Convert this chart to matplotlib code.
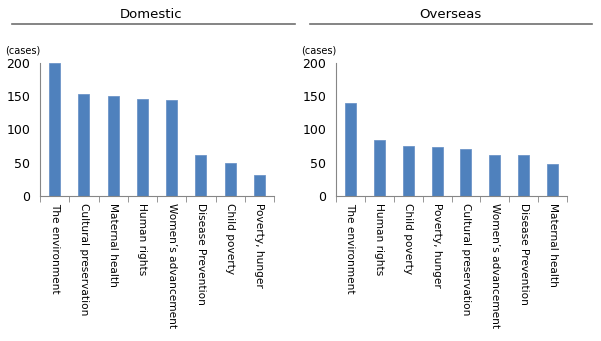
import matplotlib
matplotlib.use("Agg")
import matplotlib.pyplot as plt
from matplotlib.lines import Line2D
import numpy as np

# data
dom_labels = ["The environment", "Cultural preservation", "Maternal health", "Human rights",
              "Women\u2019s advancement", "Disease Prevention", "Child poverty", "Poverty, hunger"]
dom_values = [200, 154, 150, 146, 144, 62, 50, 31]

ovs_labels = ["The environment", "Human rights", "Child poverty", "Poverty, hunger",
              "Cultural preservation", "Women\u2019s advancement", "Disease Prevention", "Maternal health"]
ovs_values = [140, 84, 75, 74, 71, 62, 61, 48]

yticks = [0, 50, 100, 150, 200]

bar_color = "#4F81BD"
axis_color = "#868686"

plt.rcParams['font.family'] = ['DejaVu Sans']

fig = plt.figure(figsize=(6.01, 3.41), dpi=100)


def draw_panel(rect, labels, values, title, title_x, line_x0, line_x1):
    ax = fig.add_axes(rect)
    x = np.arange(len(values))
    ax.bar(x, values, width=0.38, color=bar_color, edgecolor="#6d95c8", linewidth=0.6, zorder=2)
    ax.set_xlim(-0.5, len(values) - 0.5)
    ax.set_ylim(0, 200)
    ax.set_yticks(yticks)
    ax.set_yticklabels([str(v) for v in yticks], fontsize=9)
    ax.tick_params(axis="y", length=0, pad=7)
    ax.set_xticks(x)
    ax.set_xticklabels(labels, rotation=-90, fontsize=7.6, va="top", ha="center")
    ax.tick_params(axis="x", which="major", length=0, pad=5)
    ax.set_xticks(np.arange(-0.5, len(values)), minor=True)
    ax.tick_params(axis="x", which="minor", length=4, color=axis_color, direction="out")
    for side in ("top", "right"):
        ax.spines[side].set_visible(False)
    for side in ("left", "bottom"):
        ax.spines[side].set_color(axis_color)
        ax.spines[side].set_linewidth(0.8)
    ax.text(-0.15, 1.06, "(cases)", transform=ax.transAxes, fontsize=7, ha="left", va="bottom")
    fig.text(title_x, 1 - 15 / 341, title, fontsize=9.5, ha="center", va="center")
    fig.add_artist(Line2D([line_x0, line_x1], [1 - 24 / 341, 1 - 24 / 341],
                          color="#707070", linewidth=1.2, transform=fig.transFigure))
    return ax


draw_panel([40 / 601, 1 - 196 / 341, 234 / 601, 133 / 341], dom_labels, dom_values,
           "Domestic", 151 / 601, 12 / 601, 295 / 601)
draw_panel([336 / 601, 1 - 196 / 341, 231 / 601, 133 / 341], ovs_labels, ovs_values,
           "Overseas", 450 / 601, 310 / 601, 592 / 601)

fig.savefig("out.png", dpi=100)
